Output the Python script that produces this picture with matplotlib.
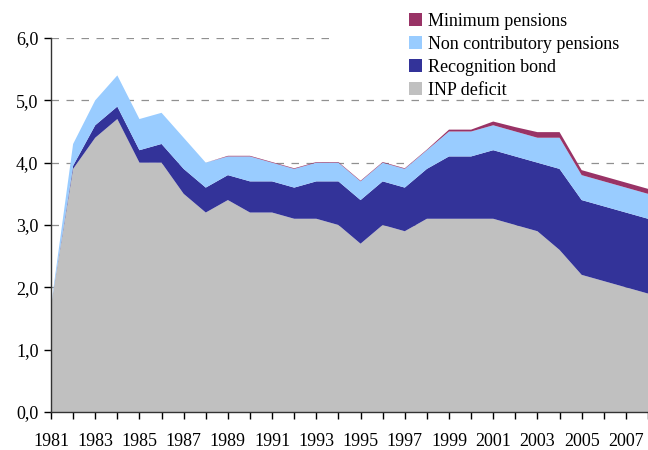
import matplotlib
matplotlib.use("Agg")
import matplotlib.pyplot as plt
from matplotlib.patches import Patch, Rectangle
import matplotlib.transforms as mtransforms

years = list(range(1981, 2009))
inp_deficit = [1.7, 3.9, 4.4, 4.7, 4.0, 4.0, 3.5, 3.2, 3.4, 3.2, 3.2, 3.1, 3.1, 3.0,
               2.7, 3.0, 2.9, 3.1, 3.1, 3.1, 3.1, 3.0, 2.9, 2.6, 2.2, 2.1, 2.0, 1.9]
recognition_bond = [0.0, 0.05, 0.2, 0.2, 0.2, 0.3, 0.4, 0.4, 0.4, 0.5, 0.5, 0.5, 0.6, 0.7,
                    0.7, 0.7, 0.7, 0.8, 1.0, 1.0, 1.1, 1.1, 1.1, 1.3, 1.2, 1.2, 1.2, 1.2]
non_contributory = [0.0, 0.35, 0.4, 0.5, 0.5, 0.5, 0.5, 0.4, 0.3, 0.4, 0.3, 0.3, 0.3, 0.3,
                    0.3, 0.3, 0.3, 0.3, 0.4, 0.4, 0.4, 0.4, 0.4, 0.5, 0.4, 0.4, 0.4, 0.4]
minimum_pensions = [0.0, 0.0, 0.0, 0.0, 0.0, 0.0, 0.0, 0.0, 0.01, 0.01, 0.01, 0.01, 0.01, 0.01,
                    0.01, 0.01, 0.01, 0.01, 0.03, 0.03, 0.06, 0.07, 0.09, 0.09, 0.08, 0.08, 0.08, 0.08]

labels = ["INP deficit", "Recognition bond", "Non contributory pensions", "Minimum pensions"]
colors = ["#C0C0C0", "#333399", "#99CCFF", "#993366"]
ytick_vals = [0, 1, 2, 3, 4, 5, 6]
ytick_labels = ["0,0", "1,0", "2,0", "3,0", "4,0", "5,0", "6,0"]
xtick_label_years = list(range(1981, 2008, 2))

plt.rcParams['font.family'] = ['Liberation Serif', 'DejaVu Serif']

fig = plt.figure(figsize=(6.48, 4.5), dpi=100)
ax = fig.add_axes([51/648, 38/450, 597/648, 374/450])

ax.stackplot(years, inp_deficit, recognition_bond, non_contributory, minimum_pensions,
             colors=colors, linewidth=0, zorder=2)

ax.set_xlim(1981, 2008)
ax.set_ylim(0, 6)

# grid
for v in ytick_vals[1:]:
    ax.axhline(v, color="#909090", linestyle=(0, (6, 6)), linewidth=0.9, zorder=1)
# white area behind legend hiding the top gridline
trans = mtransforms.blended_transform_factory(ax.transAxes, ax.transData)
ax.add_patch(Rectangle((0.476, 5.4), 0.6, 1.0, transform=trans, facecolor="white",
                       edgecolor="none", zorder=1.5, clip_on=False))

ax.set_yticks(ytick_vals)
ax.set_yticklabels(ytick_labels, fontsize=13)
ax.set_xticks(years)
ax.set_xticklabels([str(y) if y in xtick_label_years else "" for y in years], fontsize=13)
ax.tick_params(axis='y', direction='out', length=5, width=1, pad=4, colors="#000000")
ax.tick_params(axis='x', direction='out', length=5, width=1, pad=10, colors="#000000")

for s in ["top", "right"]:
    ax.spines[s].set_visible(False)
for s in ["left", "bottom"]:
    ax.spines[s].set_color("#333333")
    ax.spines[s].set_linewidth(1.0)
    ax.spines[s].set_zorder(3)

handles = [Patch(facecolor=colors[i], edgecolor="none", label=labels[i]) for i in [3, 2, 1, 0]]
fig.legend(handles=handles, loc="upper left", bbox_to_anchor=(396/648, 1.0),
           frameon=False, fontsize=13, handlelength=0.75, handleheight=0.75,
           handletextpad=0.35, labelspacing=0.33, borderpad=0.2)

fig.savefig("out.png", dpi=100)
